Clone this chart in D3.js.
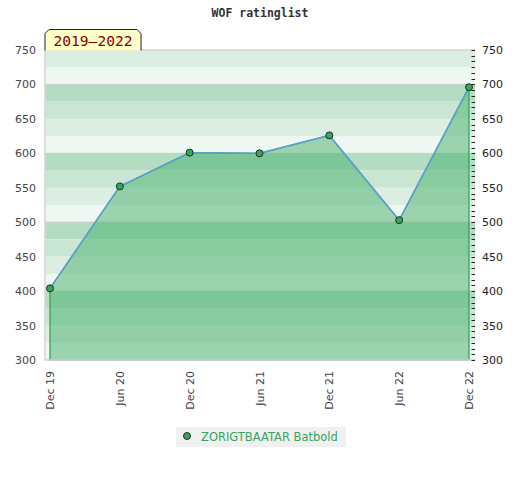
<!DOCTYPE html>
<html>
<head>
<meta charset="utf-8">
<script src="https://cdn.jsdelivr.net/npm/d3@7"></script>
<style>
  body { margin: 0; background: #fff; }
  .tick-label { font-family: "DejaVu Sans", sans-serif; font-size: 11px; fill: #444; }
</style>
</head>
<body>
<script>
// data
const periods = ["Dec 19", "Jun 20", "Dec 20", "Jun 21", "Dec 21", "Jun 22", "Dec 22"];
const ratings = [404, 552, 601, 600, 626, 503, 696];
const yTicks = [300, 350, 400, 450, 500, 550, 600, 650, 700, 750];
const playerName = "ZORIGTBAATAR Batbold";
const rangeLabel = "2019\u20132022";
const chartTitle = "WOF ratinglist";

const width = 520, height = 480;
const plot = { left: 45, right: 475, top: 50, bottom: 360 };

const svg = d3.select("body").append("svg")
    .attr("width", width)
    .attr("height", height);

const x = d3.scalePoint()
    .domain(periods)
    .range([50, 469]);

const y = d3.scaleLinear()
    .domain([300, 750])
    .range([plot.bottom, plot.top]);

// background bands, 25 points each, 4-colour cycle
const bandColors = ["#dcede2", "#eef7f1", "#b3dcc3", "#c8e6d3"];
const bands = d3.range(750, 300, -25);
svg.append("g").selectAll("rect")
  .data(bands)
  .join("rect")
    .attr("x", plot.left)
    .attr("width", plot.right - plot.left)
    .attr("y", d => y(d))
    .attr("height", d => y(d - 25) - y(d))
    .attr("fill", (d, i) => bandColors[i % 4]);

// grid lines every 100
svg.append("g").selectAll("line")
  .data([700, 600, 500, 400])
  .join("line")
    .attr("x1", plot.left).attr("x2", plot.right)
    .attr("y1", d => y(d)).attr("y2", d => y(d))
    .attr("stroke", "#c8ccc9")
    .attr("stroke-width", 1);

const pts = periods.map((p, i) => ({ p: p, v: ratings[i] }));

// area under the rating line
const area = d3.area()
    .x(d => x(d.p))
    .y0(y(300))
    .y1(d => y(d.v));

svg.append("path")
    .datum(pts)
    .attr("d", area)
    .attr("fill", "#48b06b")
    .attr("fill-opacity", 0.5)
    .attr("stroke", "#2f9e52")
    .attr("stroke-width", 1.2);

// frame
svg.append("path")
    .attr("d", `M${plot.right},${plot.top}H${plot.left}V${plot.bottom}H${plot.right}`)
    .attr("fill", "none")
    .attr("stroke", "#d4d4d4")
    .attr("stroke-width", 1.5);

const line = d3.line()
    .x(d => x(d.p))
    .y(d => y(d.v));

svg.append("path")
    .datum(pts)
    .attr("d", line)
    .attr("fill", "none")
    .attr("stroke", "#5b9fd6")
    .attr("stroke-width", 1.5);

svg.append("g").selectAll("circle")
  .data(pts)
  .join("circle")
    .attr("cx", d => x(d.p))
    .attr("cy", d => y(d.v))
    .attr("r", 3.5)
    .attr("fill", "#3aa35c")
    .attr("stroke", "#17331f")
    .attr("stroke-width", 1);

// left axis: labels only
svg.append("g").selectAll("text")
  .data(yTicks)
  .join("text")
    .attr("class", "tick-label")
    .attr("x", 36)
    .attr("y", d => y(d) + 4)
    .attr("text-anchor", "end")
    .text(d => d);

// right axis: minor ticks and labels
const minor = d3.range(300, 750.01, 50 / 6);
svg.append("g").selectAll("line")
  .data(minor)
  .join("line")
    .attr("x1", 471.5).attr("x2", 475)
    .attr("y1", d => Math.round(y(d)) + 0.5)
    .attr("y2", d => Math.round(y(d)) + 0.5)
    .attr("stroke", "#222")
    .attr("stroke-width", 1);

svg.append("g").selectAll("text")
  .data(yTicks)
  .join("text")
    .attr("class", "tick-label")
    .attr("x", 482)
    .attr("y", d => y(d) + 4)
    .attr("text-anchor", "start")
    .style("fill", "#222")
    .text(d => d);

// x labels, rotated
svg.append("g").selectAll("text")
  .data(periods)
  .join("text")
    .attr("class", "tick-label")
    .attr("transform", d => `translate(${x(d) + 4},371) rotate(-90)`)
    .attr("text-anchor", "end")
    .text(d => d);

// title
svg.append("text")
    .attr("x", 260)
    .attr("y", 17)
    .attr("text-anchor", "middle")
    .attr("font-family", "DejaVu Sans Mono, monospace")
    .attr("font-weight", "bold")
    .attr("font-size", 11.5)
    .attr("fill", "#333")
    .text(chartTitle);

// period tag
const tag = { x0: 45, x1: 141, y0: 29.5, y1: 50.5, c: 4 };
svg.append("path")
    .attr("d", `M${tag.x0},${tag.y1}V${tag.y0 + tag.c}L${tag.x0 + tag.c},${tag.y0}H${tag.x1 - tag.c}L${tag.x1},${tag.y0 + tag.c}V${tag.y1}`)
    .attr("fill", "#ffffc8")
    .attr("stroke", "#222")
    .attr("stroke-width", 1);

svg.append("text")
    .attr("x", 93)
    .attr("y", 45.5)
    .attr("text-anchor", "middle")
    .attr("font-family", "DejaVu Sans Mono, monospace")
    .attr("font-size", 14.6)
    .attr("fill", "#8b0000")
    .text(rangeLabel);

// legend
const legend = svg.append("g");
legend.append("rect")
    .attr("x", 176).attr("y", 427)
    .attr("width", 170).attr("height", 20)
    .attr("fill", "#f0f0f0");
legend.append("circle")
    .attr("cx", 187).attr("cy", 436)
    .attr("r", 3.5)
    .attr("fill", "#3aa35c")
    .attr("stroke", "#17331f")
    .attr("stroke-width", 1);
legend.append("text")
    .attr("x", 201).attr("y", 440.5)
    .attr("font-family", "DejaVu Sans, sans-serif")
    .attr("font-size", 11.5)
    .attr("fill", "#3aa35c")
    .text(playerName);
</script>
</body>
</html>
